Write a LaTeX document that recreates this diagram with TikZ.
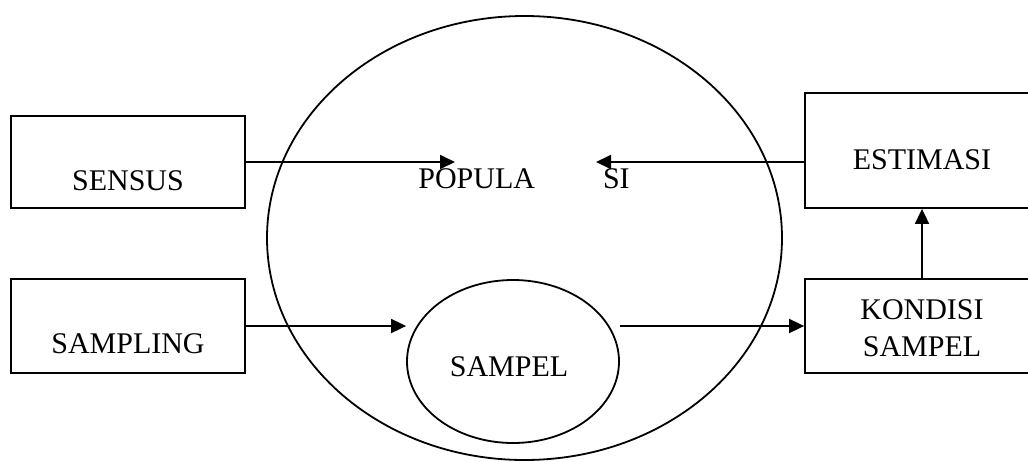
\documentclass[tikz,border=0pt]{standalone}
\usepackage{fontspec}
\setmainfont{Liberation Serif}
\usetikzlibrary{arrows.meta,shapes.geometric}

\tikzset{
  box/.style={draw, line width=0.9pt, rectangle, inner sep=0pt, minimum width=117pt},
  oval/.style={draw, line width=0.9pt, ellipse, inner sep=0pt},
  boxtext/.style={inner sep=0pt, font=\fontsize{15}{18.5}\selectfont, align=center},
  flow/.style={-{Triangle[length=7.5pt,width=7pt]}, line width=0.9pt}
}

\begin{document}
\begin{tikzpicture}[x=0.5pt,y=0.5pt,yscale=-1,xscale=1]
%set diagram left start at 0, and has height of 461
\clip (0,0) rectangle (1028,461);

%Shape: Ellipse [populasi]
\node[oval, minimum width=257.5pt, minimum height=222pt] (populasi) at (524.5,238) {};
%Shape: Ellipse [sampel]
\node[oval, minimum width=106pt, minimum height=81.5pt] (sampel) at (513,361.5) {};
%Shape: Rectangle [sensus]
\node[box, minimum height=46pt] (sensus) at (128,162) {};
%Shape: Rectangle [sampling]
\node[box, minimum height=47pt] (sampling) at (128,326) {};
%Shape: Rectangle [estimasi]
\node[box, minimum height=57.5pt] (estimasi) at (922,150.5) {};
%Shape: Rectangle [kondisi]
\node[box, minimum height=47pt] (kondisi) at (922,326) {};

%arrow ends at the population label
\coordinate (popin) at (455,162);
\coordinate (popout) at (596,162);

%Straight Lines
\draw[flow] (sensus.east |- popin) -- (popin);
\draw[flow] (estimasi.west |- popout) -- (popout);
\draw[flow] (sampling.east) -- (sampling.east -| sampel.west);
\draw[flow] (kondisi.west -| sampel.east) -- (kondisi.west);
\draw[flow] (kondisi.north) -- (estimasi.south);

% Text Node
\node[boxtext] (sensuslabel) at (128,181) {SENSUS};
% Text Node
\node[boxtext] (samplinglabel) at (128,344) {SAMPLING};
% Text Node
\node[boxtext] (estimasilabel) at (922,160) {ESTIMASI};
% Text Node
\node[boxtext] (kondisilabel) at (922,328.5) {KONDISI\\SAMPEL};
% Text Node
\node[boxtext] (sampellabel) at (509,367) {SAMPEL};
% Text Node
\node[boxtext, anchor=west] (populasilabel) at (418,179) {POPULA\hspace{34pt}SI};

\end{tikzpicture}
\end{document}
